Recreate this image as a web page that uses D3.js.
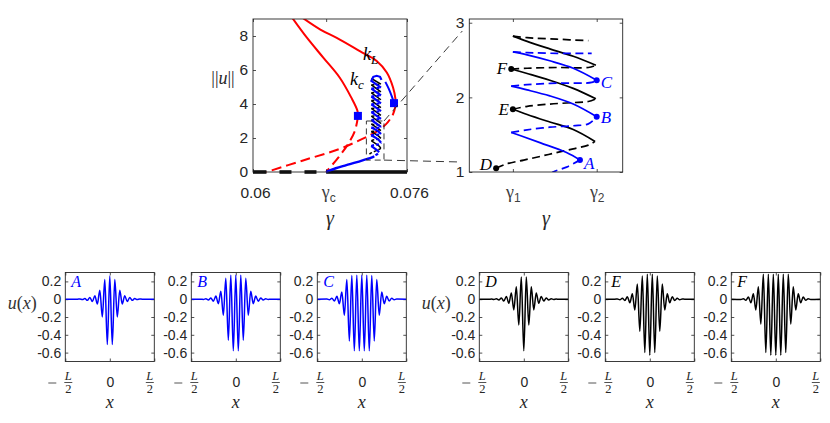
<!DOCTYPE html>
<html lang="en">
<head>
<meta charset="UTF-8">
<title>Snaking of localized states</title>
<script src="https://cdn.jsdelivr.net/npm/d3@7"></script>
<style>
  body { margin: 0; background: #fff; }
  svg { display: block; font-family: "Liberation Sans", Arial, sans-serif; }
</style>
</head>
<body>
<svg id="fig" width="830" height="423"></svg>
<script>
// ---------- data ----------
// bifurcation diagram (gamma, ||u||)
var mainXTicks = [0.06, 0.0676, 0.076];
var mainXTickLabels = ["0.06", "γ_c", "0.076"];
var mainYTicks = [0, 2, 4, 6, 8];
var gamma1 = 0.0723, gamma2 = 0.0733;

var zeroStableLeft = [[0.06, 0], [0.0614, 0]];
var zeroUnstable = [[0.0614, 0], [0.0676, 0]];
var zeroStableRight = [[0.0676, 0], [0.076, 0]];

var kcStable = [[0.0641, 9.05], [0.0656, 7.9], [0.0673, 6.73], [0.069, 5.56], [0.0702, 4.39], [0.07085, 3.6], [0.0709, 3.25]];
var kcUnstable = [[0.0709, 3.25], [0.0706, 2.44], [0.0699, 1.66], [0.0689, 0.88], [0.0676, 0]];
var kLStable = [[0.0652, 9.05], [0.067, 8.38], [0.0687, 7.89], [0.0711, 7.11], [0.07285, 6.53], [0.0739, 5.85], [0.07455, 4.97], [0.0748, 4.3], [0.0748, 3.9]];
var kLUnstable = [[0.0748, 3.9], [0.07455, 3.4], [0.0738, 2.8], [0.0726, 2.3], [0.0712, 1.9], [0.069, 1.36], [0.0652, 0.68], [0.0614, 0]];
var foldSquares = [[0.0709, 3.3], [0.07465, 4.05]];

var blueFromGammaC = [[0.0676, 0], [0.0686, 0.22], [0.0697, 0.4], [0.0708, 0.58], [0.0717, 0.74], [0.0723, 0.84], [0.0726, 0.93]];
var blueToSquare = [[0.07375, 5.3], [0.0741, 4.9], [0.07445, 4.4], [0.07465, 4.05]];

// snakes in the inset: [s, ||u||, stable] with s = 0 at gamma1, s = 1 at gamma2
var insetXTicks = [0, 1];
var insetXTickLabels = ["γ_1", "γ_2"];
var insetYTicks = [1, 2, 3];
var blackSnake = [
  [-0.2, 1.05, 0], [-0.07, 1.11, 0], [0.13, 1.16, 0], [0.33, 1.21, 0], [0.52, 1.26, 0], [0.72, 1.31, 0], [0.9, 1.36, 0],
  [0.98, 1.41, 1], [0.72, 1.57, 1], [0.44, 1.67, 1], [0.17, 1.77, 1],
  [0, 1.84, 0], [0.17, 1.88, 0], [0.44, 1.91, 0], [0.72, 1.93, 0], [0.9, 1.945, 0],
  [0.99, 1.98, 1], [0.72, 2.12, 1], [0.44, 2.23, 1], [0.17, 2.32, 1],
  [-0.02, 2.38, 0], [0.17, 2.39, 0], [0.52, 2.4, 0], [0.9, 2.4, 0],
  [0.99, 2.43, 1], [0.72, 2.55, 1], [0.44, 2.65, 1], [0.17, 2.75, 1],
  [0, 2.82, 0], [0.17, 2.8, 0], [0.52, 2.78, 0], [0.9, 2.76, 0]
];
var blueSnake = [
  [0.45, 0.97, 0], [0.48, 1.0, 0], [0.64, 1.065, 0],
  [0.8, 1.16, 1], [0.64, 1.26, 1], [0.33, 1.39, 1], [0.11, 1.48, 1],
  [-0.02, 1.53, 0], [0.17, 1.565, 0], [0.44, 1.6, 0], [0.72, 1.62, 0], [0.9, 1.645, 0],
  [1.0, 1.74, 1], [0.72, 1.91, 1], [0.44, 2.02, 1], [0.17, 2.1, 1],
  [-0.02, 2.15, 0], [0.17, 2.17, 0], [0.52, 2.19, 0], [0.94, 2.2, 0],
  [1.0, 2.23, 1], [0.72, 2.39, 1], [0.44, 2.49, 1], [0.17, 2.57, 1],
  [0, 2.61, 0], [0.17, 2.6, 0], [0.52, 2.59, 0], [0.94, 2.59, 0]
];
// continuation of the snakes above the inset (only seen in the big panel)
var blackSnakeUpper = [
  [0.9, 2.76, 0], [0.99, 2.86, 1], [0, 3.28, 0], [0.99, 3.33, 1], [0, 3.74, 0], [0.99, 3.79, 1], [0, 4.2, 0],
  [0.99, 4.25, 1], [0, 4.66, 0], [0.99, 4.71, 1], [0, 5.12, 0], [0.99, 5.17, 1], [0, 5.5, 1]
];
var blueSnakeUpper = [
  [0.94, 2.59, 0], [1, 2.66, 1], [0, 3.06, 0], [1, 3.12, 1], [0, 3.52, 0], [1, 3.58, 1], [0, 3.98, 0],
  [1, 4.04, 1], [0, 4.44, 0], [1, 4.5, 1], [0, 4.9, 0], [1, 4.96, 1], [0, 5.36, 1],
  [0.2, 5.6, 1], [0.55, 5.66, 1], [0.9, 5.6, 1], [1.05, 5.42, 1]
];
var blackMarks = [[-0.2, 1.05], [0, 1.84], [-0.02, 2.38]];
var blackMarkNames = ["D", "E", "F"];
var blueMarks = [[0.8, 1.16], [1.0, 1.74], [1.0, 2.23]];
var blueMarkNames = ["A", "B", "C"];

// profiles u(x), x in units of L, extrema
var profileX = [-0.5, -0.392, -0.364, -0.336, -0.308, -0.28, -0.252, -0.224, -0.196, -0.168, -0.14, -0.112, -0.084, -0.056, -0.028,
  0, 0.028, 0.056, 0.084, 0.112, 0.14, 0.168, 0.196, 0.224, 0.252, 0.28, 0.308, 0.336, 0.364, 0.392, 0.5];
var profileYTicks = [-0.6, -0.4, -0.2, 0, 0.2];
var uA = [0, 0, 0, 0.002, -0.004, 0.008, -0.013, 0.02, -0.027, 0.04, -0.055, 0.1, -0.2, 0.22, -0.51,
  0.26, -0.51, 0.22, -0.2, 0.1, -0.055, 0.04, -0.027, 0.02, -0.013, 0.008, -0.004, 0.002, 0, 0, 0];
var uB = [0, 0, -0.002, 0.004, -0.008, 0.014, -0.022, 0.035, -0.05, 0.09, -0.18, 0.235, -0.46, 0.27, -0.58,
  0.27, -0.58, 0.27, -0.46, 0.235, -0.18, 0.09, -0.05, 0.035, -0.022, 0.014, -0.008, 0.004, -0.002, 0, 0];
var uC = [0, 0.003, -0.006, 0.012, -0.02, 0.032, -0.05, 0.08, -0.18, 0.22, -0.47, 0.265, -0.58, 0.27, -0.58,
  0.27, -0.58, 0.27, -0.58, 0.265, -0.47, 0.22, -0.18, 0.08, -0.05, 0.032, -0.02, 0.012, -0.006, 0.003, 0];
var uD = [0, 0, 0.001, -0.003, 0.005, -0.008, 0.013, -0.02, 0.03, -0.045, 0.07, -0.12, 0.14, -0.29, 0.25,
  -0.58, 0.25, -0.29, 0.14, -0.12, 0.07, -0.045, 0.03, -0.02, 0.013, -0.008, 0.005, -0.003, 0.001, 0, 0];
var uE = [0, 0, 0.002, -0.005, 0.01, -0.015, 0.028, -0.04, 0.06, -0.12, 0.17, -0.36, 0.26, -0.6, 0.28,
  -0.63, 0.28, -0.6, 0.26, -0.36, 0.17, -0.12, 0.06, -0.04, 0.028, -0.015, 0.01, -0.005, 0.002, 0, 0];
var uF = [0, -0.003, 0.006, -0.012, 0.025, -0.04, 0.06, -0.12, 0.14, -0.28, 0.28, -0.6, 0.28, -0.63, 0.28,
  -0.63, 0.28, -0.63, 0.28, -0.6, 0.28, -0.28, 0.14, -0.12, 0.06, -0.04, 0.025, -0.012, 0.006, -0.003, 0];

// ---------- drawing ----------
var BLUE = "#0000ff", RED = "#ff0000", BLACK = "#000000", AXIS = "#262626";
var SANS = "Liberation Sans, Arial, sans-serif", SERIF = "Liberation Serif, Times New Roman, serif";
var svg = d3.select("#fig");

// math-ish label "base_sub"
function subLabel(sel, label, size, subSize, color) {
  var parts = label.split("_");
  sel.text(null);
  sel.append("tspan").attr("font-family", SERIF).attr("font-size", size).attr("fill", color).text(parts[0]);
  sel.append("tspan").attr("font-family", SANS).attr("font-size", subSize).attr("fill", color)
    .attr("dy", "0.3em").text(parts[1]);
}

function axesBox(g, x, y, o) {
  var x0 = x.range()[0], x1 = x.range()[1], y0 = y.range()[0], y1 = y.range()[1];
  g.append("rect").attr("x", x0).attr("y", y1).attr("width", x1 - x0).attr("height", y0 - y1).attr("fill", "#fff");
  var bx = g.append("g").attr("transform", "translate(0," + y0 + ")")
    .call(d3.axisBottom(x).tickValues(o.xTicks).tickSize(-3).tickPadding(o.xPad).tickFormat(o.xFmt));
  g.append("g").attr("transform", "translate(0," + y1 + ")")
    .call(d3.axisTop(x).tickValues(o.xTicks).tickSize(-3).tickFormat(""));
  var ly = g.append("g").attr("transform", "translate(" + x0 + ",0)")
    .call(d3.axisLeft(y).tickValues(o.yTicks).tickSize(-3).tickPadding(o.yPad).tickFormat(o.yFmt));
  g.append("g").attr("transform", "translate(" + x1 + ",0)")
    .call(d3.axisRight(y).tickValues(o.yTicks).tickSize(-3).tickFormat(""));
  g.selectAll(".domain").remove();
  g.selectAll(".tick line").attr("stroke", AXIS).attr("stroke-width", 0.8);
  [bx, ly].forEach(function (a) {
    a.attr("font-family", SANS).attr("font-size", o.fontSize);
    a.selectAll(".tick text").attr("fill", AXIS);
  });
  return bx;
}

function frame(g, x, y) {
  var x0 = x.range()[0], x1 = x.range()[1], y0 = y.range()[0], y1 = y.range()[1];
  g.append("rect").attr("x", x0).attr("y", y1).attr("width", x1 - x0).attr("height", y0 - y1)
    .attr("fill", "none").attr("stroke", AXIS).attr("stroke-width", 0.9);
}

function clipFor(id, x, y, pad) {
  var x0 = x.range()[0], x1 = x.range()[1], y0 = y.range()[0], y1 = y.range()[1];
  svg.append("clipPath").attr("id", id).append("rect")
    .attr("x", x0).attr("y", y1).attr("width", x1 - x0).attr("height", y0 - y1 + pad);
  return "url(#" + id + ")";
}

// split [s,u,stable] lists into runs of equal stability
function runs(pts) {
  var out = [], cur = null;
  for (var i = 0; i < pts.length - 1; i++) {
    var f = pts[i][2];
    if (!cur || cur.stable !== f) { cur = { stable: f, pts: [pts[i]] }; out.push(cur); }
    cur.pts.push(pts[i + 1]);
  }
  return out;
}

// ===== big bifurcation panel =====
var xMain = d3.scaleLinear().domain([0.06, 0.076]).range([253, 407]);
var yMain = d3.scaleLinear().domain([0, 9]).range([172, 19]);
var gMain = svg.append("g");
var bxMain = axesBox(gMain, xMain, yMain, {
  xTicks: mainXTicks, yTicks: mainYTicks, xPad: 15, yPad: 5, fontSize: 15.5,
  xFmt: function (d, i) { return mainXTickLabels[i]; }, yFmt: d3.format("d")
});
bxMain.selectAll(".tick text").attr("dx", 2).filter(function (d, i) { return mainXTickLabels[i].indexOf("_") >= 0; })
  .each(function (d) { subLabel(d3.select(this), mainXTickLabels[mainXTicks.indexOf(d)], 18, 12, "#404040"); });

var mainData = gMain.append("g").attr("clip-path", clipFor("clipMain", xMain, yMain, 4));
var lineMain = d3.line().x(function (d) { return xMain(d[0]); }).y(function (d) { return yMain(d[1]); }).curve(d3.curveCatmullRom);
var snakeMain = d3.line()
  .x(function (d) { return xMain(gamma1 + d[0] * (gamma2 - gamma1)); })
  .y(function (d) { return yMain(d[1]); });

// red periodic branches
[[kcStable, null], [kcUnstable, "10,5"], [kLStable, null], [kLUnstable, "10,5"]].forEach(function (c) {
  mainData.append("path").attr("d", lineMain(c[0])).attr("fill", "none").attr("stroke", RED)
    .attr("stroke-width", 2).attr("stroke-dasharray", c[1]);
});
// trivial state
var lineFlat = d3.line().x(function (d) { return xMain(d[0]); }).y(function (d) { return yMain(d[1]); });
[zeroStableLeft, zeroStableRight].forEach(function (c) {
  mainData.append("path").attr("d", lineFlat(c)).attr("stroke", BLACK).attr("stroke-width", 3.5);
});
mainData.append("path").attr("d", lineFlat(zeroUnstable)).attr("stroke", BLACK).attr("stroke-width", 3.5)
  .attr("stroke-dasharray", "12,13").attr("stroke-dashoffset", 12);

// snakes, full height
runs(blackSnake.concat(blackSnakeUpper.slice(1))).forEach(function (r) {
  mainData.append("path").attr("d", snakeMain(r.pts)).attr("fill", "none").attr("stroke", BLACK)
    .attr("stroke-width", 1.5).attr("stroke-dasharray", r.stable ? null : "3,2");
});
mainData.append("path").attr("d", lineMain(blueFromGammaC)).attr("fill", "none").attr("stroke", BLUE).attr("stroke-width", 2.4);
runs(blueSnake.concat(blueSnakeUpper.slice(1))).forEach(function (r) {
  mainData.append("path").attr("d", snakeMain(r.pts)).attr("fill", "none").attr("stroke", BLUE)
    .attr("stroke-width", 2.2).attr("stroke-dasharray", r.stable ? null : "3,2");
});
mainData.append("path").attr("d", lineMain(blueToSquare)).attr("fill", "none").attr("stroke", BLUE).attr("stroke-width", 2);
mainData.selectAll("rect.sq").data(foldSquares).enter().append("rect").attr("class", "sq")
  .attr("x", function (d) { return xMain(d[0]) - 4; }).attr("y", function (d) { return yMain(d[1]) - 4; })
  .attr("width", 8).attr("height", 8).attr("fill", BLUE);
frame(gMain, xMain, yMain);

// zoom box and connectors
var boxU = [0.7, 3.0];
var xIn = d3.scaleLinear().domain([-0.52, 1.31]).range([469.3, 622.7]);
var yIn = d3.scaleLinear().domain([1, 3.05]).range([172, 19]);
var bl = xMain(gamma1 + xIn.domain()[0] * (gamma2 - gamma1)), br = xMain(gamma1 + xIn.domain()[1] * (gamma2 - gamma1));
svg.append("rect").attr("x", bl).attr("y", yMain(boxU[1])).attr("width", br - bl).attr("height", yMain(boxU[0]) - yMain(boxU[1]))
  .attr("fill", "none").attr("stroke", "#222").attr("stroke-width", 0.9).attr("stroke-dasharray", "6,4");
svg.append("line").attr("x1", br).attr("y1", yMain(boxU[1])).attr("x2", xIn.range()[0] - 7).attr("y2", yIn.range()[1] + 12)
  .attr("stroke", "#222").attr("stroke-width", 0.9).attr("stroke-dasharray", "8,5");
svg.append("line").attr("x1", br).attr("y1", yMain(boxU[0])).attr("x2", xIn.range()[0] - 9).attr("y2", yIn.range()[0] - 10)
  .attr("stroke", "#222").attr("stroke-width", 0.9).attr("stroke-dasharray", "8,5");

// main labels
svg.append("text").attr("x", 223).attr("y", 84).attr("text-anchor", "middle").attr("font-family", SERIF).attr("font-size", 18)
  .attr("fill", AXIS)
  .call(function (t) {
    t.append("tspan").attr("fill", AXIS).text("||");
    t.append("tspan").attr("fill", AXIS).attr("font-style", "italic").text("u");
    t.append("tspan").attr("fill", AXIS).text("||");
  });
svg.append("text").attr("x", 330).attr("y", 225).attr("text-anchor", "middle").attr("font-family", SERIF)
  .attr("font-style", "italic").attr("font-size", 20).attr("fill", AXIS).text("γ");
[["k", "L", 363, 60], ["k", "c", 350, 85]].forEach(function (k) {
  var t = svg.append("text").attr("x", k[2]).attr("y", k[3]).attr("font-family", SERIF).attr("font-style", "italic")
    .attr("font-size", 18).attr("fill", BLACK);
  t.append("tspan").text(k[0]);
  t.append("tspan").attr("font-size", 13).attr("dy", 4).text(k[1]);
});

// ===== inset =====
var gIn = svg.append("g");
var bxIn = axesBox(gIn, xIn, yIn, {
  xTicks: insetXTicks, yTicks: insetYTicks, xPad: 15, yPad: 5, fontSize: 15.5,
  xFmt: function (d, i) { return insetXTickLabels[i]; }, yFmt: d3.format("d")
});
bxIn.selectAll(".tick text").each(function (d) { subLabel(d3.select(this), insetXTickLabels[insetXTicks.indexOf(d)], 18, 12, "#404040"); });
var inData = gIn.append("g").attr("clip-path", clipFor("clipIn", xIn, yIn, 0));
var lineIn = d3.line().x(function (d) { return xIn(d[0]); }).y(function (d) { return yIn(d[1]); }).curve(d3.curveCatmullRom);
[[blackSnake, BLACK], [blueSnake, BLUE]].forEach(function (sn) {
  runs(sn[0]).forEach(function (r) {
    inData.append("path").attr("d", lineIn(r.pts)).attr("fill", "none").attr("stroke", sn[1])
      .attr("stroke-width", 1.7).attr("stroke-dasharray", r.stable ? null : "8,4.5");
  });
});
frame(gIn, xIn, yIn);
[[blackMarks, blackMarkNames, BLACK, -1], [blueMarks, blueMarkNames, BLUE, 1]].forEach(function (m) {
  m[0].forEach(function (p, i) {
    var cx = xIn(p[0]), cy = yIn(p[1]);
    gIn.append("circle").attr("cx", cx).attr("cy", cy).attr("r", 3).attr("fill", m[2]);
    var dy = [[2, 6, 5], [9, 6, 8]][m[3] < 0 ? 0 : 1][i];
    gIn.append("text").attr("x", cx + m[3] * 4).attr("y", cy + dy).attr("text-anchor", m[3] < 0 ? "end" : "start")
      .attr("font-family", SERIF).attr("font-style", "italic").attr("font-size", 17).attr("fill", m[2]).text(m[1][i]);
  });
});
svg.append("text").attr("x", 546).attr("y", 225).attr("text-anchor", "middle").attr("font-family", SERIF)
  .attr("font-style", "italic").attr("font-size", 20).attr("fill", AXIS).text("γ");

// ===== profiles =====
var profiles = [
  { u: uA, name: "A", color: BLUE, left: 65.3 }, { u: uB, name: "B", color: BLUE, left: 191.3 }, { u: uC, name: "C", color: BLUE, left: 317.3 },
  { u: uD, name: "D", color: BLACK, left: 479.3 }, { u: uE, name: "E", color: BLACK, left: 605.3 }, { u: uF, name: "F", color: BLACK, left: 731.3 }
];
var pTop = 272.5, pH = 89, pW = 89;
profiles.forEach(function (p, k) {
  var x = d3.scaleLinear().domain([-0.5, 0.5]).range([p.left, p.left + pW]);
  var y = d3.scaleLinear().domain([-0.7, 0.3]).range([pTop + pH, pTop]);
  var g = svg.append("g");
  axesBox(g, x, y, {
    xTicks: [-0.5, 0, 0.5], yTicks: profileYTicks, xPad: 16, yPad: 4, fontSize: 14,
    xFmt: function (d) { return d === 0 ? "0" : ""; }, yFmt: function (d) { return d === 0 ? "0" : String(d); }
  });
  var line = d3.line().x(function (d, i) { return x(profileX[i]); }).y(function (d) { return y(d); }).curve(d3.curveMonotoneX);
  g.append("path").attr("d", line(p.u)).attr("fill", "none").attr("stroke", p.color).attr("stroke-width", 1.5)
    .attr("stroke-linejoin", "round").attr("clip-path", clipFor("clipP" + k, x, y, 0));
  frame(g, x, y);
  g.append("text").attr("x", p.left + 6).attr("y", pTop + 14).attr("font-family", SERIF).attr("font-style", "italic")
    .attr("font-size", 16).attr("fill", p.color).text(p.name);
  // -L/2 and L/2 tick labels
  var yb = pTop + pH;
  [[x(-0.5) + 3, true], [x(0.5) - 4.5, false]].forEach(function (f) {
    g.append("text").attr("x", f[0]).attr("y", yb + 18.5).attr("text-anchor", "middle").attr("font-family", SERIF)
      .attr("font-style", "italic").attr("font-size", 12.5).attr("fill", AXIS).text("L");
    g.append("line").attr("x1", f[0] - 4).attr("x2", f[0] + 4).attr("y1", yb + 21).attr("y2", yb + 21).attr("stroke", AXIS).attr("stroke-width", 0.8);
    g.append("text").attr("x", f[0]).attr("y", yb + 31.5).attr("text-anchor", "middle").attr("font-family", SERIF)
      .attr("font-size", 12.5).attr("fill", AXIS).text("2");
    if (f[1]) g.append("line").attr("x1", f[0] - 20).attr("x2", f[0] - 12).attr("y1", yb + 21.5).attr("y2", yb + 21.5)
      .attr("stroke", "#555").attr("stroke-width", 1);
  });
  g.append("text").attr("x", x(0)).attr("y", yb + 46.5).attr("text-anchor", "middle").attr("font-family", SERIF)
    .attr("font-style", "italic").attr("font-size", 18).attr("fill", AXIS).text("x");
  if (k === 0 || k === 3) {
    var t = g.append("text").attr("x", p.left - 43).attr("y", 309).attr("text-anchor", "middle").attr("font-family", SERIF)
      .attr("font-size", 18).attr("fill", "#333");
    t.append("tspan").attr("font-style", "italic").text("u");
    t.append("tspan").text("(");
    t.append("tspan").attr("font-style", "italic").text("x");
    t.append("tspan").text(")");
  }
});
</script>
</body>
</html>
